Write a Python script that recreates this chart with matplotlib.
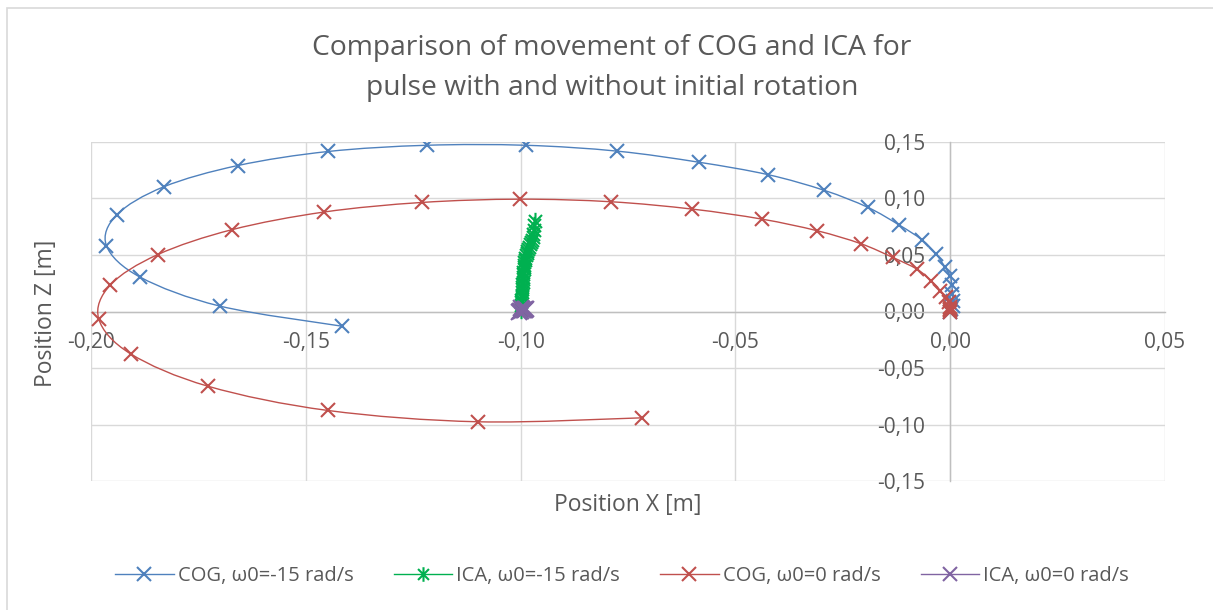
import numpy as np
import matplotlib
matplotlib.use("Agg")
import matplotlib.pyplot as plt
from matplotlib.path import Path
from matplotlib.patches import PathPatch, Rectangle
from matplotlib.lines import Line2D
from matplotlib.ticker import FuncFormatter, MultipleLocator

# COG, w0=-15 rad/s
cog15_x = [0.0, 0.0003, 0.0006, 0.0007, 0.0005, 0.0004, 0.0, -0.0012, -0.0033, -0.0066, -0.0119,
           -0.0192, -0.0293, -0.0424, -0.0585, -0.0775, -0.0988, -0.1219, -0.1448, -0.1658,
           -0.1831, -0.1940, -0.1964, -0.1885, -0.1699, -0.1416]
cog15_z = [0.0, 0.0021, 0.0052, 0.0097, 0.0156, 0.0238, 0.0312, 0.0391, 0.0509, 0.0635, 0.0766,
           0.0922, 0.1072, 0.1211, 0.1321, 0.1419, 0.1471, 0.1471, 0.1416, 0.1292,
           0.1103, 0.0856, 0.0582, 0.0303, 0.0047, -0.0130]

# ICA, w0=-15 rad/s
ica15_x = [-0.0999, -0.0999, -0.0998, -0.0998, -0.0998, -0.0997, -0.0997, -0.0997, -0.0996, -0.0996,
           -0.0996, -0.0995, -0.0995, -0.0995, -0.0994, -0.0994, -0.0993, -0.0993, -0.0992, -0.0991,
           -0.0990, -0.0989, -0.0988, -0.0986, -0.0984, -0.0982, -0.0980, -0.0978, -0.0976, -0.0974,
           -0.0972, -0.0970, -0.0969, -0.0968, -0.0967]
ica15_z = [0.0015, 0.0038, 0.0060, 0.0083, 0.0105, 0.0128, 0.0150, 0.0172, 0.0195, 0.0217,
           0.0240, 0.0262, 0.0284, 0.0306, 0.0328, 0.0350, 0.0372, 0.0393, 0.0414, 0.0435,
           0.0456, 0.0477, 0.0497, 0.0517, 0.0537, 0.0556, 0.0575, 0.0594, 0.0612, 0.0630,
           0.0658, 0.0685, 0.0725, 0.0765, 0.0800]

# COG, w0=0 rad/s
cog0_x = [0.0, 0.0, 0.0, -0.0001, -0.0002, -0.0010, -0.0023, -0.0045, -0.0078, -0.0134, -0.0208,
          -0.0310, -0.0439, -0.0600, -0.0789, -0.1002, -0.1230, -0.1458, -0.1672, -0.1845,
          -0.1955, -0.1982, -0.1908, -0.1727, -0.1448, -0.1098, -0.0718]
cog0_z = [0.0, 0.0010, 0.0021, 0.0040, 0.0082, 0.0126, 0.0185, 0.0274, 0.0376, 0.0479, 0.0600,
          0.0715, 0.0818, 0.0906, 0.0971, 0.0994, 0.0965, 0.0880, 0.0724, 0.0503,
          0.0235, -0.0065, -0.0374, -0.0662, -0.0876, -0.0976, -0.0941]

# ICA, w0=0 rad/s
ica0_x = [-0.1004, -0.1001, -0.0998, -0.0995, -0.0992, -0.0989, -0.0987, -0.0996, -0.1000, -0.0990]
ica0_z = [0.0000, 0.0004, 0.0007, 0.0012, 0.0015, 0.0019, 0.0022, 0.0026, 0.0030, 0.0010]

labels = ["COG, ω0=-15 rad/s", "ICA, ω0=-15 rad/s", "COG, ω0=0 rad/s", "ICA, ω0=0 rad/s"]
colors = ["#4F81BD", "#00B050", "#C0504D", "#8064A2"]

star = Path([(0, -1), (0, 1), (-0.75, -0.75), (0.75, 0.75), (-0.75, 0.75), (0.75, -0.75)],
            [Path.MOVETO, Path.LINETO] * 3)
markers = ["x", star, "x", "x"]
sizes = [10.5, 12.5, 10.5, 11.5]

def smooth_path(x, y):
    # bezier through the points, like excel smoothed lines
    pts = np.column_stack([x, y])
    p = np.vstack([pts[:1], pts, pts[-1:]])
    verts = [pts[0]]
    codes = [Path.MOVETO]
    for i in range(1, len(p) - 2):
        p0, p1, p2, p3 = p[i - 1], p[i], p[i + 1], p[i + 2]
        verts += [p1 + (p2 - p0) / 6, p2 - (p3 - p1) / 6, p2]
        codes += [Path.CURVE4] * 3
    return Path(verts, codes)

plt.rcParams["font.family"] = ["Open Sans", "DejaVu Sans"]
text_col = "#595959"

fig = plt.figure(figsize=(12.13, 6.10), dpi=100)
ax = fig.add_axes([91 / 1213, 1 - 481 / 610, (1165 - 91) / 1213, (481 - 142) / 610])

series = [(cog15_x, cog15_z), (ica15_x, ica15_z), (cog0_x, cog0_z), (ica0_x, ica0_z)]
handles = []
for k, (xs, zs) in enumerate(series):
    ax.add_patch(PathPatch(smooth_path(xs, zs), fill=False, edgecolor=colors[k], lw=1.0, zorder=3 + k))
    ax.plot(xs, zs, ls="none", marker=markers[k], ms=sizes[k], mew=1.5, color=colors[k], zorder=3 + k)
    handles.append(Line2D([], [], color=colors[k], lw=1.0, marker=markers[k], ms=10.5, mew=1.5))

ax.set_xlim(-0.20, 0.05)
ax.set_ylim(-0.15, 0.15)
ax.xaxis.set_major_locator(MultipleLocator(0.05))
ax.yaxis.set_major_locator(MultipleLocator(0.05))
fmt = FuncFormatter(lambda v, p: ("%.2f" % v).replace(".", ",").replace("-0,00", "0,00"))
ax.xaxis.set_major_formatter(fmt)
ax.yaxis.set_major_formatter(fmt)
ax.grid(True, color="#D9D9D9", lw=1.0)
ax.set_axisbelow(True)

for s in ["top", "right"]:
    ax.spines[s].set_visible(False)
ax.spines["left"].set_position(("data", 0))
ax.spines["bottom"].set_position(("data", 0))
for s in ["left", "bottom"]:
    ax.spines[s].set_color("#BFBFBF")
    ax.spines[s].set_linewidth(1.0)
    ax.spines[s].set_zorder(2)
ax.tick_params(axis="y", length=0, pad=18, labelsize=15, labelcolor=text_col)
ax.tick_params(axis="x", length=0, pad=15, labelsize=15, labelcolor=text_col)

fig.text(612 / 1213, 1 - 48 / 610, "Comparison of movement of COG and ICA for", ha="center", va="center",
         fontsize=20.3, color=text_col)
fig.text(612 / 1213, 1 - 88 / 610, "pulse with and without initial rotation", ha="center", va="center",
         fontsize=20.3, color=text_col)
fig.text(628 / 1213, 1 - 505 / 610, "Position X [m]", ha="center", va="center", fontsize=16.5, color=text_col)
fig.text(46 / 1213, 1 - 313 / 610, "Position Z [m]", ha="center", va="center", rotation=90,
         fontsize=16.5, color=text_col)

leg = fig.legend(handles, labels, loc="center", bbox_to_anchor=(622 / 1213, 1 - 576 / 610), ncol=4,
                 frameon=False, fontsize=14.5, handlelength=2.9, handletextpad=0.2, columnspacing=2.0)
for t in leg.get_texts():
    t.set_color(text_col)

fig.patches.append(Rectangle((7 / 1213, -0.1), 2, 1.1 - 8 / 610, transform=fig.transFigure,
                             fill=False, edgecolor="#D9D9D9", lw=1.2))

fig.savefig("out.png", dpi=100)
